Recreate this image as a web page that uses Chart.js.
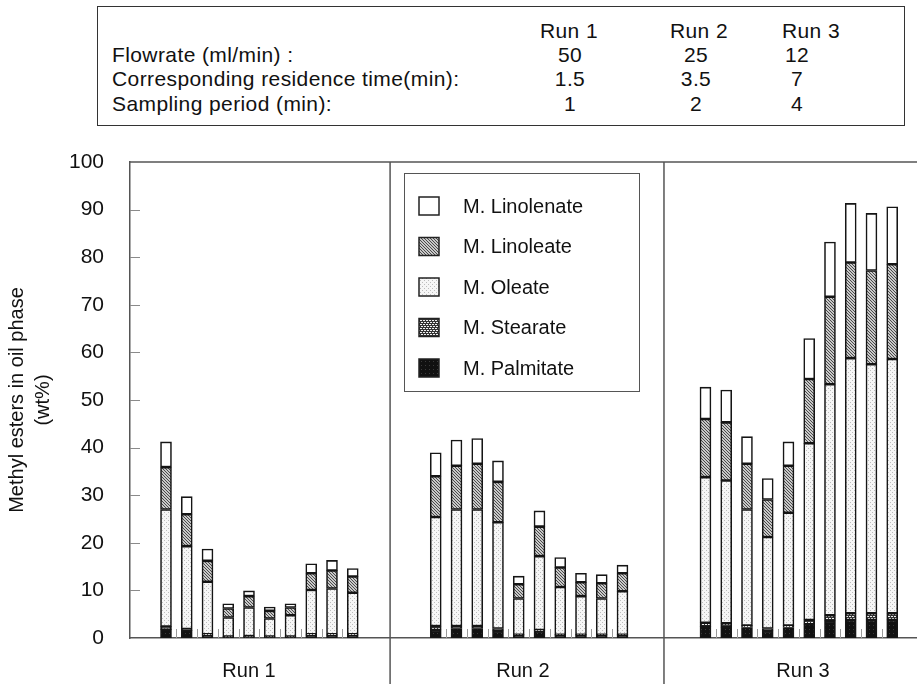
<!DOCTYPE html>
<html>
<head>
<meta charset="utf-8">
<script src="https://cdn.jsdelivr.net/npm/chart.js@4.4.1/dist/chart.umd.min.js"></script>
<style>
  html, body { margin: 0; padding: 0; background: #fff; overflow: hidden; }
  body { width: 917px; height: 684px; position: relative; font-family: "Liberation Sans", Arial, sans-serif; color: #111; }
  #table-box { position: absolute; left: 97px; top: 6px; width: 806px; height: 118px; border: 1.5px solid #333; }
  .cell { position: absolute; font-size: 21px; line-height: 21px; letter-spacing: 0.4px; white-space: nowrap; transform: translate(-50%, -50%); }
  .row-label { position: absolute; font-size: 21px; line-height: 21px; letter-spacing: 0.4px; white-space: nowrap; transform: translateY(-50%); }
  #chart-wrap { position: absolute; left: 0; top: 0; width: 925px; height: 684px; }
</style>
</head>
<body>
<div id="table-box"></div>
<div id="chart-wrap"><canvas id="chart"></canvas></div>
<script>
// run conditions table
const runNames = ['Run 1', 'Run 2', 'Run 3'];
const tableRowLabels = ['Flowrate (ml/min) :', 'Corresponding residence time(min):', 'Sampling period (min):'];
const flowrate = ['50', '25', '12'];
const residenceTime = ['1.5', '3.5', '7'];
const samplingPeriod = ['1', '2', '4'];

// methyl ester content (wt%) per sample, 10 samples per run (Run 1, Run 2, Run 3)
const palmitate = [
    1.8, 1.6, 0.6, 0.2, 0.3, 0.2, 0.2, 0.6, 0.6, 0.6,
    1.7, 2.0, 2.0, 1.5, 0.6, 1.5, 0.6, 0.6, 0.6, 0.6,
    2.4, 2.3, 2.2, 1.5, 2.2, 2.9, 3.6, 3.8, 3.8, 3.8
];
const stearate = [
    0.6, 0.3, 0.2, 0.1, 0.1, 0.1, 0.1, 0.2, 0.2, 0.2,
    0.8, 0.5, 0.5, 0.5, 0.1, 0.2, 0.1, 0.1, 0.1, 0.1,
    0.8, 0.8, 0.4, 0.5, 0.4, 0.9, 1.2, 1.4, 1.4, 1.4
];
const oleate = [
    24.6, 17.4, 11.0, 4.0, 6.0, 3.8, 4.5, 9.3, 9.6, 8.7,
    22.9, 24.5, 24.5, 22.3, 7.6, 15.5, 10.0, 8.1, 7.6, 9.1,
    30.6, 30.0, 24.4, 19.2, 23.7, 37.1, 48.5, 53.6, 52.3, 53.4
];
const linoleate = [
    8.9, 6.7, 4.4, 1.9, 2.4, 1.6, 1.6, 3.5, 3.8, 3.4,
    8.6, 9.2, 9.6, 8.5, 3.0, 6.2, 4.1, 2.9, 3.2, 3.8,
    12.2, 12.2, 9.6, 7.9, 9.9, 13.5, 18.4, 20.1, 19.7, 19.9
];
const linolenate = [
    5.3, 3.7, 2.5, 1.0, 1.1, 0.8, 0.8, 2.0, 2.1, 1.7,
    4.9, 5.4, 5.3, 4.4, 1.7, 3.3, 2.1, 1.9, 1.8, 1.7,
    6.7, 6.8, 5.7, 4.4, 5.0, 8.5, 11.5, 12.4, 12.0, 12.1
];
const yTicks = [0, 10, 20, 30, 40, 50, 60, 70, 80, 90, 100];

const samplesPerRun = 10;
const runSpacing = 13;           // x units between first samples of runs
const dividerX = [10.8, 24.0];   // run separators, x units
const runLabelX = [4.0, 17.2, 30.7];

// build the table
const tableBox = document.getElementById('table-box');
const boxLeft = 97, boxTop = 6;
const rowY = [29, 53, 77, 102];
const headerX = [568, 698, 810];
const valueX = [569, 695, 796];
function addText(cls, text, x, y) {
    const el = document.createElement('div');
    el.className = cls;
    el.textContent = text;
    el.style.left = (x - boxLeft) + 'px';
    el.style.top = (y - boxTop) + 'px';
    tableBox.appendChild(el);
}
runNames.forEach((r, i) => addText('cell', r, headerX[i], rowY[0]));
[flowrate, residenceTime, samplingPeriod].forEach((vals, row) => {
    addText('row-label', tableRowLabels[row], 111, rowY[row + 1]);
    vals.forEach((v, i) => addText('cell', v, valueX[i], rowY[row + 1]));
});

// fill patterns
function makePattern(w, h, bg, draw) {
    const c = document.createElement('canvas');
    c.width = w; c.height = h;
    const g = c.getContext('2d');
    g.fillStyle = bg;
    g.fillRect(0, 0, w, h);
    draw(g);
    return g.createPattern(c, 'repeat');
}
const hatch = makePattern(3, 3, '#c8c8c8', g => {
    g.fillStyle = '#4a4a4a';
    g.fillRect(0, 0, 1, 1);
    g.fillRect(1, 1, 1, 1);
    g.fillRect(2, 2, 1, 1);
});
const dots = makePattern(4, 4, '#f6f6f6', g => {
    g.fillStyle = '#bdbdbd';
    g.fillRect(0, 0, 1, 1);
    g.fillRect(2, 2, 1, 1);
});
const bricks = makePattern(6, 4, '#333', g => {
    g.fillStyle = '#eee';
    g.fillRect(0, 0, 2, 1);
    g.fillRect(3, 0, 2, 1);
    g.fillRect(1, 2, 2, 1);
    g.fillRect(4, 2, 2, 1);
});
const darkDots = makePattern(4, 4, '#111', g => {
    g.fillStyle = '#3a3a3a';
    g.fillRect(1, 1, 1, 1);
});

function toPoints(values) {
    return values.map((v, i) => ({
        x: Math.floor(i / samplesPerRun) * runSpacing + (i % samplesPerRun),
        y: v
    }));
}

const series = [
    { label: 'M. Palmitate', data: palmitate, fill: darkDots },
    { label: 'M. Stearate', data: stearate, fill: bricks },
    { label: 'M. Oleate', data: oleate, fill: dots },
    { label: 'M. Linoleate', data: linoleate, fill: hatch },
    { label: 'M. Linolenate', data: linolenate, fill: '#ffffff' }
];

const FONT = '"Liberation Sans", Arial, sans-serif';
const AXIS = '#555';

const decorPlugin = {
    id: 'decor',
    beforeDatasetsDraw(chart) {
        const { ctx, chartArea: a, scales: { x, y } } = chart;
        ctx.save();
        // inside ticks on y axis
        ctx.strokeStyle = '#8a8a8a';
        ctx.lineWidth = 1;
        yTicks.slice(1, -1).forEach(t => {
            const py = Math.round(y.getPixelForValue(t)) + 0.5;
            ctx.beginPath();
            ctx.moveTo(a.left, py);
            ctx.lineTo(a.left + 10, py);
            ctx.stroke();
        });
        // small ticks between samples
        ctx.strokeStyle = '#9a9a9a';
        for (let r = 0; r < runNames.length; r++) {
            for (let i = 0; i < samplesPerRun - 1; i++) {
                const px = Math.round(x.getPixelForValue(r * runSpacing + i + 0.5)) + 0.5;
                ctx.beginPath();
                ctx.moveTo(px, a.bottom);
                ctx.lineTo(px, a.bottom - 9);
                ctx.stroke();
            }
        }
        ctx.restore();
    },
    afterDraw(chart) {
        const { ctx, chartArea: a, scales: { x } } = chart;
        ctx.save();
        ctx.strokeStyle = AXIS;
        ctx.lineWidth = 1.5;
        // top frame
        ctx.beginPath();
        ctx.moveTo(a.left, a.top);
        ctx.lineTo(a.right, a.top);
        ctx.stroke();
        // run separators
        dividerX.forEach(d => {
            const px = x.getPixelForValue(d);
            ctx.beginPath();
            ctx.moveTo(px, a.top);
            ctx.lineTo(px, chart.height);
            ctx.stroke();
        });
        // run labels
        ctx.fillStyle = '#111';
        ctx.font = '20px ' + FONT;
        ctx.textAlign = 'center';
        ctx.textBaseline = 'middle';
        runNames.forEach((r, i) => ctx.fillText(r, x.getPixelForValue(runLabelX[i]), a.bottom + 33));

        // y axis title
        ctx.save();
        ctx.translate(17, (a.top + a.bottom) / 2);
        ctx.rotate(-Math.PI / 2);
        ctx.font = '20px ' + FONT;
        ctx.fillText('Methyl esters in oil phase', 0, 0);
        ctx.fillText('(wt%)', 0, 26);
        ctx.restore();

        // legend box
        ctx.strokeStyle = '#555';
        ctx.lineWidth = 1;
        ctx.strokeRect(404.5, 173.5, 235, 218);
        ctx.textAlign = 'left';
        const ds = chart.data.datasets.slice().reverse();
        ds.forEach((d, i) => {
            const cy = 206 + i * 40.5;
            ctx.fillStyle = d.backgroundColor;
            ctx.fillRect(419, cy - 9, 20, 18);
            ctx.strokeStyle = '#222';
            ctx.lineWidth = 1.5;
            ctx.strokeRect(419, cy - 9, 20, 18);
            ctx.fillStyle = '#111';
            ctx.fillText(d.label, 463, cy + 1);
        });
        ctx.restore();
    }
};

new Chart(document.getElementById('chart'), {
    type: 'bar',
    data: {
        datasets: series.map(s => ({
            label: s.label,
            data: toPoints(s.data),
            backgroundColor: s.fill,
            borderColor: '#151515',
            borderWidth: 1.6,
            borderSkipped: false,
            barThickness: 11,
            stack: 'esters'
        }))
    },
    options: {
        responsive: true,
        maintainAspectRatio: false,
        animation: false,
        layout: { padding: { top: 162, bottom: 46, left: 0, right: 0 } },
        plugins: { legend: { display: false }, tooltip: { enabled: false } },
        scales: {
            x: {
                type: 'linear',
                offset: false,
                min: -1.735,
                max: 36.58,
                grid: { display: false, offset: false },
                ticks: { display: false },
                border: { display: true, color: AXIS, width: 1.5 },
                afterFit(scale) { scale.height = 0; }
            },
            y: {
                stacked: true,
                min: 0,
                max: 100,
                afterBuildTicks(scale) { scale.ticks = yTicks.map(v => ({ value: v })); },
                grid: { display: false, drawTicks: false },
                border: { display: true, color: AXIS, width: 1.5 },
                ticks: { color: '#111', font: { size: 21, family: FONT }, padding: 26 },
                afterFit(scale) { scale.width = 130; }
            }
        }
    },
    plugins: [decorPlugin]
});
</script>
</body>
</html>
